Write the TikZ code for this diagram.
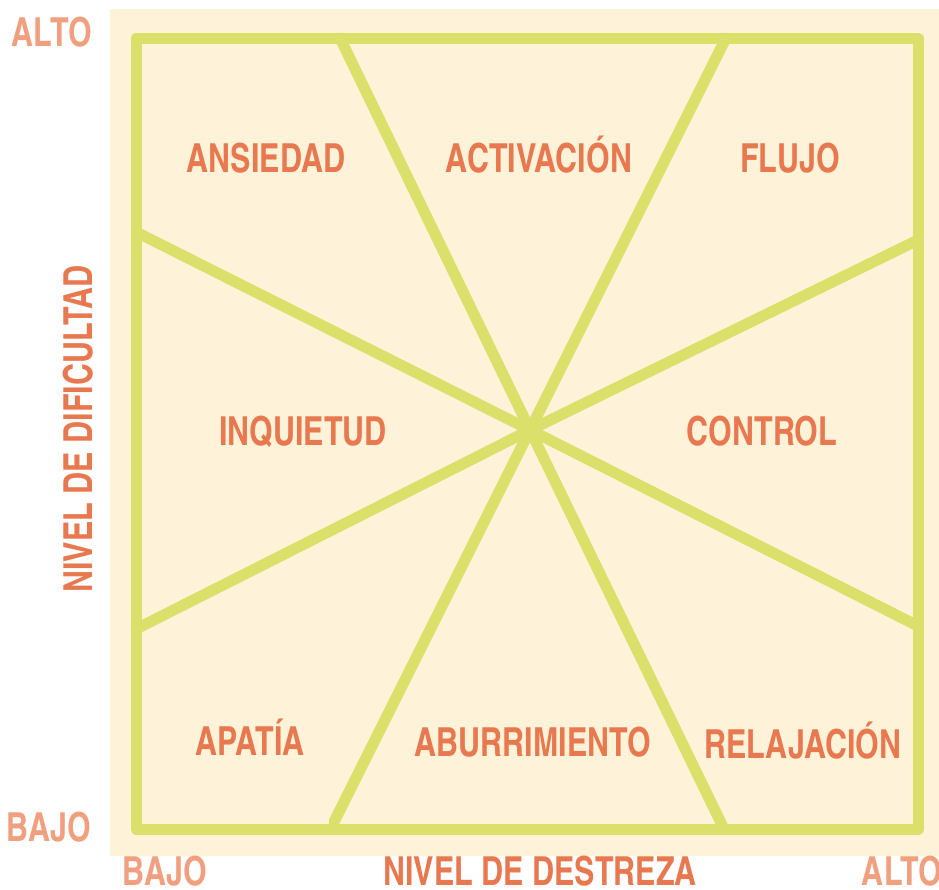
\documentclass[tikz,border=0pt]{standalone}
\usepackage{fontspec}
\newfontfamily\cnbold{texgyreheroscn-bold.otf}[FakeStretch=0.93]
\definecolor{cream}{HTML}{FEF3D8}
\definecolor{lime}{HTML}{DAE06A}
\definecolor{lbl}{HTML}{E8784F}
\definecolor{axl}{HTML}{F0A07E}
\tikzset{
  region/.style={text=lbl, font=\cnbold\fontsize{40}{40}\selectfont, inner sep=0pt, anchor=base},
  axtick/.style={text=axl, font=\cnbold\fontsize{40}{40}\selectfont, inner sep=0pt, anchor=base},
  axtitle/.style={text=lbl, font=\cnbold\fontsize{40}{40}\selectfont, inner sep=0pt, anchor=base},
  grid/.style={draw=lime, line width=11pt, line cap=round, line join=round}
}
\begin{document}
\begin{tikzpicture}[x=1pt,y=-1pt]
\useasboundingbox (0,0) rectangle (939,889);
\fill[cream] (110,9) rectangle (939,856);
% corners and edge points
\coordinate (tl) at (136,38);
\coordinate (tr) at (918,38);
\coordinate (br) at (918,829);
\coordinate (bl) at (136,829);
\coordinate (c) at (530,430);
\coordinate (t1) at (340,38);
\coordinate (t2) at (726,38);
\coordinate (b1) at (334,822);
\coordinate (b2) at (724,829);
\coordinate (l1) at (136,232);
\coordinate (l2) at (136,629);
\coordinate (r1) at (918,240);
\coordinate (r2) at (916,625);
\draw[grid] (tl) -- (tr) -- (br) -- (bl) -- cycle;
\draw[grid] (t1) -- (c) -- (b2);
\draw[grid] (t2) -- (c) -- (b1);
\draw[grid] (l1) -- (c) -- (r2);
\draw[grid] (l2) -- (c) -- (r1);
% region labels
\node[region] (ans) at (266,172) {ANSIEDAD};
\node[region] (act) at (539,172) {ACTIVACIÓN};
\node[region] (flu) at (790,172) {FLUJO};
\node[region] (inq) at (303,445) {INQUIETUD};
\node[region] (con) at (762,445) {CONTROL};
\node[region] (apa) at (250,755) {APATÍA};
\node[region] (abu) at (533,756) {ABURRIMIENTO};
\node[region] (rel) at (803,758) {RELAJACIÓN};
% axes
\node[axtick] (altoy) at (52,46) {ALTO};
\node[axtick] (bajoy) at (49,841) {BAJO};
\node[axtick] (bajox) at (165,885) {BAJO};
\node[axtick] (altox) at (902,885) {ALTO};
\node[axtitle] (destreza) at (540,885) {NIVEL DE DESTREZA};
\node[axtitle, rotate=90] (dificultad) at (92,429) {NIVEL DE DIFICULTAD};
\end{tikzpicture}
\end{document}
